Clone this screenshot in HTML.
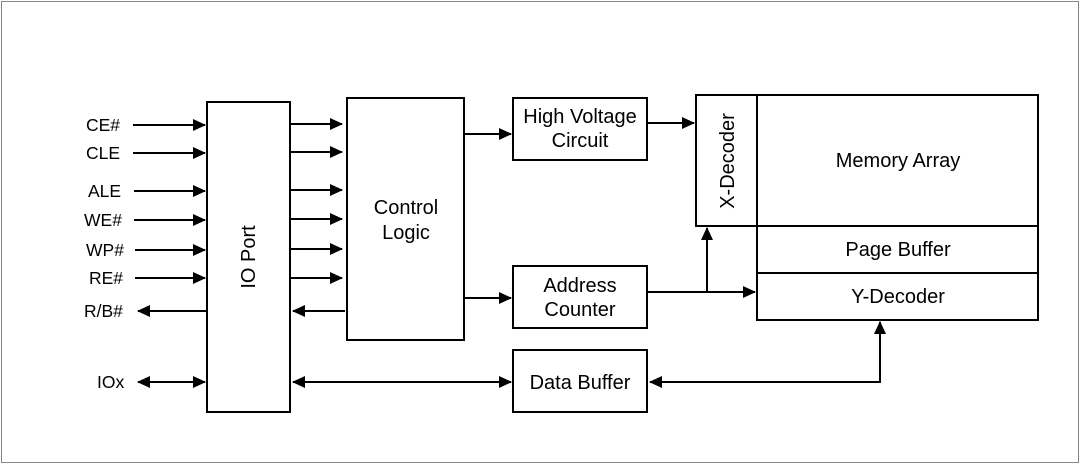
<!DOCTYPE html>
<html><head><style>
body{margin:0;background:#fff}
svg text{font-family:"Liberation Sans",Arial,sans-serif;font-size:20px;fill:#000}
svg text.p{font-size:17.5px}
</style></head><body>
<svg width="1080" height="464" viewBox="0 0 1080 464" xmlns="http://www.w3.org/2000/svg">
<defs>
<marker id="a" markerWidth="13" markerHeight="12" refX="12" refY="6" orient="auto-start-reverse" markerUnits="userSpaceOnUse">
<path d="M0,0 L13,6 L0,12 Z" fill="#000"/></marker>
</defs>
<rect x="1.5" y="1.5" width="1077" height="461" fill="none" stroke="#888" stroke-width="1"/>
<g fill="none" stroke="#000" stroke-width="2">
<rect x="207" y="102" width="83" height="310"/>
<rect x="347" y="98" width="117" height="242"/>
<rect x="513" y="98" width="134" height="62"/>
<rect x="513" y="266" width="134" height="62"/>
<rect x="513" y="350" width="134" height="62"/>
<rect x="696" y="95" width="61" height="131"/>
<rect x="757" y="95" width="281" height="131"/>
<rect x="757" y="226" width="281" height="47"/>
<rect x="757" y="273" width="281" height="47"/>
</g>
<g stroke="#000" stroke-width="2" marker-end="url(#a)">
<line x1="133" y1="125" x2="205" y2="125"/>
<line x1="133" y1="153" x2="205" y2="153"/>
<line x1="134" y1="191" x2="205" y2="191"/>
<line x1="134" y1="220" x2="205" y2="220"/>
<line x1="135" y1="250" x2="205" y2="250"/>
<line x1="135" y1="278" x2="205" y2="278"/>
<line x1="207" y1="311" x2="138" y2="311"/>
<line x1="138" y1="382" x2="205" y2="382" marker-start="url(#a)"/>
<line x1="290" y1="124" x2="342" y2="124"/>
<line x1="290" y1="152" x2="342" y2="152"/>
<line x1="290" y1="190" x2="342" y2="190"/>
<line x1="290" y1="219" x2="342" y2="219"/>
<line x1="290" y1="249" x2="342" y2="249"/>
<line x1="290" y1="278" x2="342" y2="278"/>
<line x1="345" y1="311" x2="293" y2="311"/>
<line x1="293" y1="382" x2="511" y2="382" marker-start="url(#a)"/>
<line x1="464" y1="134" x2="511" y2="134"/>
<line x1="464" y1="298" x2="511" y2="298"/>
<line x1="647" y1="123" x2="694" y2="123"/>
<line x1="647" y1="292" x2="755" y2="292"/>
<line x1="707" y1="292" x2="707" y2="228"/>
<polyline points="880,322 880,382 650,382" fill="none" marker-start="url(#a)"/>
</g>
<text class="p" x="86" y="131">CE#</text>
<text class="p" x="86" y="159">CLE</text>
<text class="p" x="88" y="197">ALE</text>
<text class="p" x="84" y="226">WE#</text>
<text class="p" x="86" y="256">WP#</text>
<text class="p" x="89" y="284">RE#</text>
<text class="p" x="84" y="317">R/B#</text>
<text class="p" x="97" y="388">IOx</text>
<text transform="translate(255,257) rotate(-90)" text-anchor="middle">IO Port</text>
<text x="406" y="214" text-anchor="middle">Control</text>
<text x="406" y="239" text-anchor="middle">Logic</text>
<text x="580" y="123" text-anchor="middle">High Voltage</text>
<text x="580" y="147" text-anchor="middle">Circuit</text>
<text x="580" y="292" text-anchor="middle">Address</text>
<text x="580" y="316" text-anchor="middle">Counter</text>
<text x="580" y="389" text-anchor="middle">Data Buffer</text>
<text transform="translate(734,161) rotate(-90)" text-anchor="middle">X-Decoder</text>
<text x="898" y="167" text-anchor="middle">Memory Array</text>
<text x="898" y="256" text-anchor="middle">Page Buffer</text>
<text x="898" y="303" text-anchor="middle">Y-Decoder</text>
</svg>
</body></html>
